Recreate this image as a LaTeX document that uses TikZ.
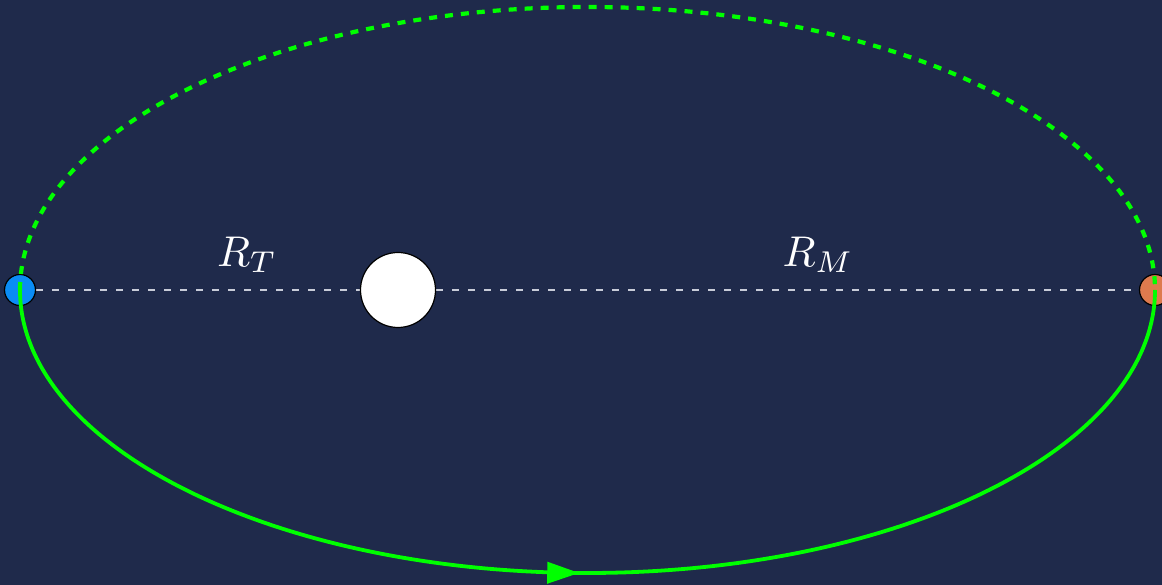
\documentclass[tikz,border=0pt]{standalone}
\usetikzlibrary{decorations.markings,arrows.meta}
\definecolor{bg}{HTML}{1F2A4B}
\definecolor{orbit}{HTML}{00FF00}
\definecolor{earthc}{HTML}{0A8CF5}
\definecolor{marsc}{HTML}{DE7A4E}
\definecolor{axisc}{HTML}{C8CCD8}
\tikzset{
  planet/.style={circle, draw=black, line width=1.2pt, inner sep=0pt, minimum size=#1},
  axisline/.style={axisc, line width=2pt, dash pattern=on 7pt off 9pt},
  transfer/.style={orbit, line width=3.8pt},
  orbitdash/.style={orbit, line width=4.2pt, dash pattern=on 8pt off 8pt},
  lbl/.style={text=white, scale=4.3}
}
\begin{document}
\begin{tikzpicture}[x=1pt,y=1pt]
\useasboundingbox (0,0) rectangle (1162,585);
\fill[bg] (0,0) rectangle (1162,585);
\coordinate (ec) at (20,295);
\coordinate (mc) at (1155,295);
\draw[axisline] (ec) -- (mc);
\node[planet=75pt, fill=white] (sun) at (398,295) {};
\node[planet=31pt, fill=earthc] (earth) at (ec) {};
\node[planet=31pt, fill=marsc] (mars) at (mc) {};
\node[lbl] (rt) at (247,330) {$R_T$};
\node[lbl] (rm) at (818,330) {$R_M$};
\draw[orbitdash] (earth.center) arc[start angle=180, end angle=0, x radius=567.5, y radius=283];
\draw[transfer, postaction={decorate}, decoration={markings, mark=at position 0.494 with {\arrow{Triangle[length=32pt,width=21pt]}}}]
  (earth.center) arc[start angle=180, end angle=360, x radius=567.5, y radius=283];
\end{tikzpicture}
\end{document}
